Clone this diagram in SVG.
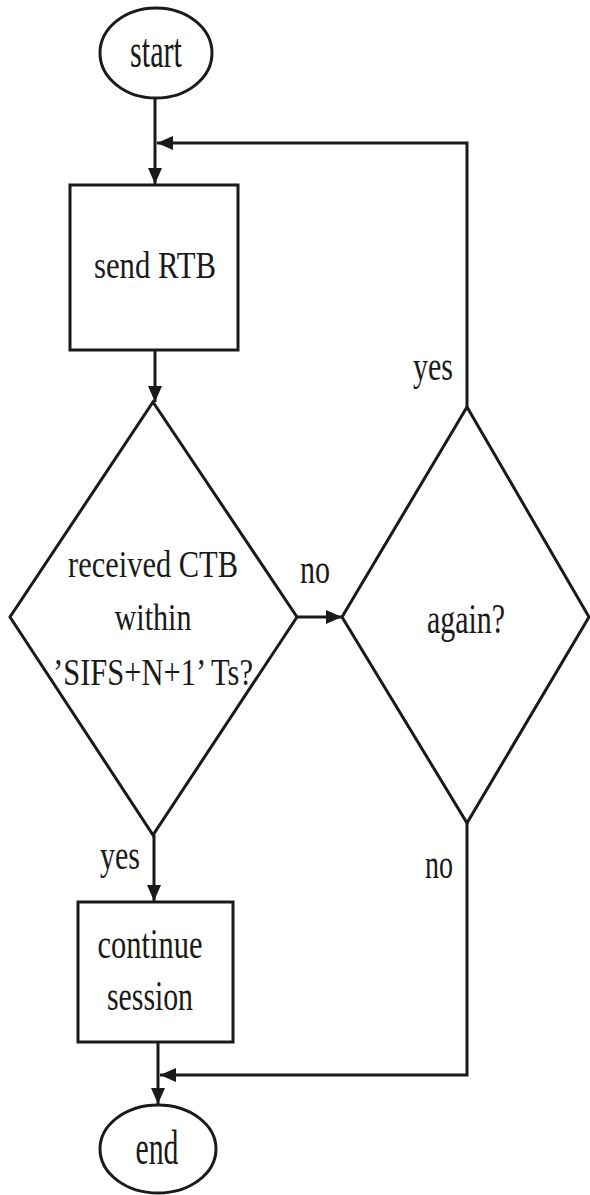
<svg xmlns="http://www.w3.org/2000/svg" width="590" height="1195" viewBox="0 0 590 1195">
  <style>
    .shape { fill: #ffffff; stroke: #1a1a1a; stroke-width: 3; }
    .edge { fill: none; stroke: #1a1a1a; stroke-width: 3; }
    .label { font-family: "Liberation Serif", "Times New Roman", serif; font-size: 42px; fill: #1a1a1a; text-anchor: middle; }
    .terminal { font-size: 48px; }
    .body { font-size: 37px; }
    .branch { font-size: 43px; }
  </style>
  <defs>
    <marker id="arrow" markerUnits="userSpaceOnUse" markerWidth="16" markerHeight="14" refX="16" refY="7" orient="auto">
      <path d="M0,0 L16,7 L0,14 Z" fill="#1a1a1a"/>
    </marker>
  </defs>
  <rect width="590" height="1195" fill="#ffffff"/>

  <g id="connectors">
    <line class="edge" x1="155" y1="98" x2="155" y2="184" marker-end="url(#arrow)"/>
    <path class="edge" d="M467,407 V143 H157" marker-end="url(#arrow)"/>
    <line class="edge" x1="155" y1="350" x2="155" y2="402" marker-end="url(#arrow)"/>
    <line class="edge" x1="297" y1="617" x2="342" y2="617" marker-end="url(#arrow)"/>
    <line class="edge" x1="154" y1="835" x2="154" y2="901" marker-end="url(#arrow)"/>
    <line class="edge" x1="158" y1="1042" x2="158" y2="1104" marker-end="url(#arrow)"/>
    <path class="edge" d="M467,823 V1075 H160" marker-end="url(#arrow)"/>
    <text class="label branch" x="315" y="583" textLength="30" lengthAdjust="spacingAndGlyphs">no</text>
    <text class="label branch" x="433" y="380" textLength="40" lengthAdjust="spacingAndGlyphs">yes</text>
    <text class="label branch" x="439" y="878" textLength="28" lengthAdjust="spacingAndGlyphs">no</text>
    <text class="label branch" x="120" y="869" textLength="40" lengthAdjust="spacingAndGlyphs">yes</text>
  </g>

  <g id="start">
    <ellipse class="shape" cx="156" cy="53" rx="56" ry="45"/>
    <text class="label terminal" x="156" y="67" textLength="52" lengthAdjust="spacingAndGlyphs">start</text>
  </g>

  <g id="send-rtb">
    <rect class="shape" x="70" y="185" width="168" height="165"/>
    <text class="label body" x="155" y="278" textLength="122" lengthAdjust="spacingAndGlyphs">send RTB</text>
  </g>

  <g id="received-ctb">
    <polygon class="shape" points="153,402 297,617 153,835 10,617"/>
    <text class="label body" x="153" y="577" textLength="170" lengthAdjust="spacingAndGlyphs">received CTB</text>
    <text class="label body" x="153" y="630" textLength="77" lengthAdjust="spacingAndGlyphs">within</text>
    <text class="label body" x="153" y="685" textLength="200" lengthAdjust="spacingAndGlyphs">’SIFS+N+1’ Ts?</text>
  </g>

  <g id="again">
    <polygon class="shape" points="467,407 589,617 467,823 342,617"/>
    <text class="label branch" x="466" y="633" textLength="78" lengthAdjust="spacingAndGlyphs">again?</text>
  </g>

  <g id="continue-session">
    <rect class="shape" x="78" y="902" width="155" height="140"/>
    <text class="label" x="150" y="958" textLength="105" lengthAdjust="spacingAndGlyphs">continue</text>
    <text class="label" x="150" y="1010" textLength="86" lengthAdjust="spacingAndGlyphs">session</text>
  </g>

  <g id="end">
    <ellipse class="shape" cx="158" cy="1149" rx="58" ry="44"/>
    <text class="label terminal" x="157" y="1164" textLength="43" lengthAdjust="spacingAndGlyphs">end</text>
  </g>
</svg>
